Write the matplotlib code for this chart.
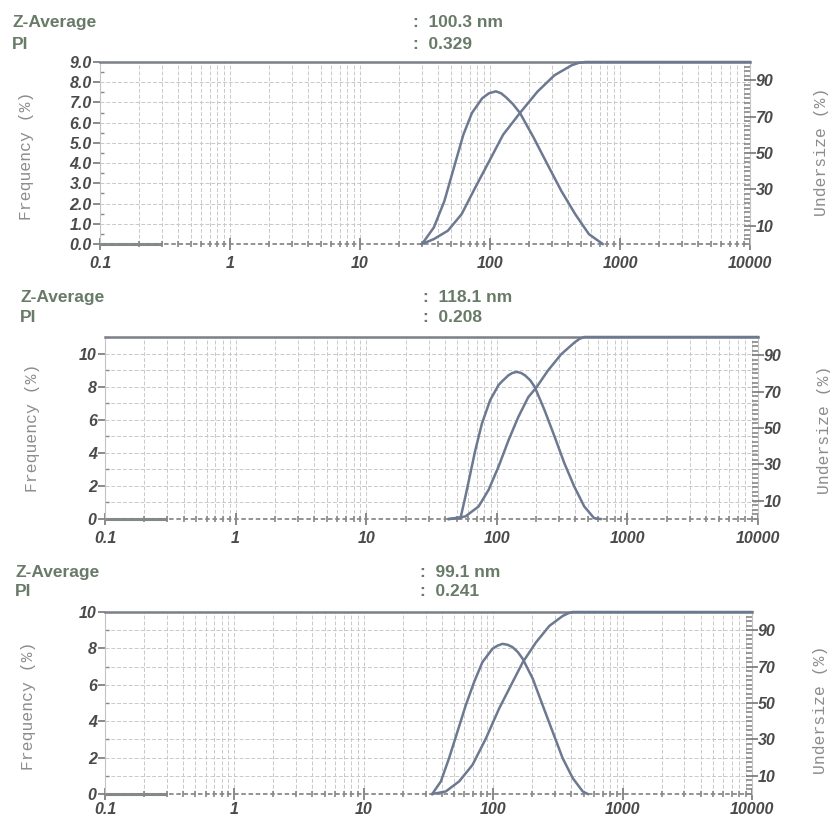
import numpy as np
import matplotlib
matplotlib.use("Agg")
import matplotlib.pyplot as plt
from matplotlib.ticker import FixedLocator, MultipleLocator, NullFormatter, FormatStrFormatter

# ---------------- data ----------------
z_average = ["100.3 nm", "118.1 nm", "99.1 nm"]
pdi_values = ["0.329", "0.208", "0.241"]

freq1_size = [30, 37, 44.6, 53.6, 62.4, 72.6, 87.2, 98, 111, 122, 133, 150, 170, 217, 277, 354, 452, 576, 736]
freq1_val = [0, 0.82, 2.13, 3.93, 5.41, 6.48, 7.21, 7.45, 7.55, 7.45, 7.25, 6.92, 6.48, 5.25, 3.93, 2.62, 1.48, 0.49, 0.0]
cum1_size = [30, 37, 47.4, 60.5, 77, 98.6, 126, 170, 231, 313, 425, 480, 542, 10000]
cum1_val = [0, 2.7, 7.3, 16.4, 31, 45.5, 60, 72, 83.6, 92.7, 98.2, 99.5, 100, 100]

freq2_size = [43, 52.7, 57.5, 62.8, 68.5, 77, 89, 103, 110, 123, 132, 142, 153, 164, 180, 195, 232, 277, 329, 392, 467, 556, 624]
freq2_val = [0, 0.05, 1.36, 2.77, 4.17, 5.78, 7.19, 8.09, 8.33, 8.69, 8.83, 8.89, 8.83, 8.69, 8.39, 7.99, 6.58, 4.98, 3.37, 1.96, 0.76, 0.05, 0]
cum2_size = [43, 57.5, 72.6, 86.5, 103, 123, 146, 174, 201, 246, 311, 392, 430, 467, 10000]
cum2_val = [0, 1.4, 6.9, 16, 28.7, 43.3, 56, 66.9, 72.3, 81.5, 90.5, 96.9, 99.0, 100, 100]

freq3_size = [33.8, 39.4, 45.6, 52.9, 61.4, 71.2, 82.6, 98.8, 108, 118, 129, 141, 155, 169, 202, 241, 288, 344, 412, 492, 538]
freq3_val = [0, 0.69, 1.97, 3.42, 4.88, 6.15, 7.25, 7.98, 8.15, 8.25, 8.2, 8.07, 7.8, 7.43, 6.34, 4.88, 3.42, 1.97, 0.87, 0.14, 0]
cum3_size = [33.8, 43, 54.5, 69.2, 87.8, 111, 141, 169, 214, 272, 344, 380, 412, 10000]
cum3_val = [0, 1.4, 6.9, 16, 30.5, 46.9, 61.4, 72.3, 83.3, 92.4, 97.8, 99.3, 100, 100]

baseline_size = [0.1, 0.3]
baseline_val = [0, 0]

x_ticks = [0.1, 1, 10, 100, 1000, 10000]
x_tick_labels = ["0.1", "1", "10", "100", "1000", "10000"]
undersize_ticks = [10, 30, 50, 70, 90]
freq_max = [9.0, 11.0, 10.0]
freq_major = [1.0, 2.0, 2.0]
freq_minor = [0.5, 1.0, 1.0]
freq_fmt = ["%.1f", "%d", "%d"]

panels = [
    (freq1_size, freq1_val, cum1_size, cum1_val),
    (freq2_size, freq2_val, cum2_size, cum2_val),
    (freq3_size, freq3_val, cum3_size, cum3_val),
]

# ---------------- layout ----------------
W, H = 830, 819
fig = plt.figure(figsize=(W / 100, H / 100), dpi=100)
fig.patch.set_facecolor("white")

def fx(px):
    return px / W

def fy(py):
    return 1 - py / H

axes_px = [(100, 62, 750, 244), (105, 337, 758, 519), (105, 612, 752, 794)]
xpad = [4, 4, 1]
header_px = [((12, 15), (413, 15), (12, 37), (413, 37)),
             ((20, 290), (423, 290), (20, 310), (423, 310)),
             ((15, 565), (420, 565), (15, 584), (420, 584))]
freq_label_px = [(26, 156), (33, 428), (29, 706)]
und_label_px = [(821, 152), (824, 430), (820, 710)]

curve_c = "#6d7891"
grid_c = "#c9c9c9"
tick_c = "#4a4a4a"
head_c = "#687a68"
lab_c = "#8c8c8c"

tick_font = dict(family="Liberation Sans", weight="bold", style="italic", size=11.5)

for i, (fs, fv, cs, cv) in enumerate(panels):
    l, t, r, b = axes_px[i]
    ax = fig.add_axes([fx(l), fy(b), fx(r) - fx(l), (b - t) / H])
    ax.set_xscale("log")
    ax.set_xlim(0.1, 10000)
    ax.set_ylim(0, freq_max[i])

    # ticks
    ax.xaxis.set_major_locator(FixedLocator(x_ticks))
    ax.xaxis.set_minor_locator(FixedLocator(
        [m * 10.0 ** e for e in range(-1, 4) for m in range(2, 10)]))
    ax.set_xticklabels(x_tick_labels)
    ax.xaxis.set_minor_formatter(NullFormatter())
    ax.yaxis.set_major_locator(MultipleLocator(freq_major[i]))
    ax.yaxis.set_minor_locator(MultipleLocator(freq_minor[i]))
    ax.yaxis.set_major_formatter(FormatStrFormatter(freq_fmt[i]))

    ax.tick_params(axis="x", which="major", direction="inout", length=9, width=1.2,
                   color="#777777", pad=xpad[i])
    ax.tick_params(axis="x", which="minor", direction="inout", length=4, width=1.2,
                   color="#888888")
    ax.tick_params(axis="y", which="major", direction="out", length=5, width=1.2,
                   color="#777777", pad=1)
    ax.tick_params(axis="y", which="minor", direction="in", length=3, width=1.0,
                   color="#888888")
    for lab in ax.get_xticklabels() + ax.get_yticklabels():
        lab.set_fontproperties(matplotlib.font_manager.FontProperties(**tick_font))
        lab.set_color(tick_c)

    # grid
    ax.grid(True, which="both", axis="x", color=grid_c, linestyle=(0, (4, 2)), linewidth=0.7)
    ax.grid(True, which="major", axis="y", color=grid_c, linestyle=(0, (4, 2)), linewidth=0.7)
    if freq_minor[i] == 1.0:
        ax.grid(True, which="minor", axis="y", color=grid_c, linestyle=(0, (4, 2)), linewidth=0.7)
    ax.set_axisbelow(True)

    # spines
    ax.spines["top"].set_color("#7a7f88")
    ax.spines["top"].set_linewidth(1.8)
    ax.spines["left"].set_color("#c4c4c4")
    ax.spines["left"].set_linewidth(0.8)
    ax.spines["right"].set_color("#c4c4c4")
    ax.spines["right"].set_linewidth(0.8)
    ax.spines["bottom"].set_color("#8a8a8a")
    ax.spines["bottom"].set_linewidth(1.3)
    ax.spines["bottom"].set_linestyle((0, (1.5, 2.5)))

    ax.plot(baseline_size, baseline_val, color="#7f8a80", linewidth=2.2,
            clip_on=False, solid_capstyle="butt")
    ax.plot(fs, fv, color=curve_c, linewidth=1.8, clip_on=False, zorder=4,
            solid_joinstyle="round")

    # undersize axis
    ax2 = ax.twinx()
    ax2.set_ylim(0, 100)
    ax2.yaxis.set_major_locator(FixedLocator(undersize_ticks))
    ax2.yaxis.set_minor_locator(MultipleLocator(2.5))
    ax2.tick_params(axis="y", which="major", direction="inout", length=8, width=1.2,
                    color="#777777", pad=0)
    ax2.tick_params(axis="y", which="minor", direction="in", length=4, width=1.2,
                    color="#888888")
    for lab in ax2.get_yticklabels():
        lab.set_fontproperties(matplotlib.font_manager.FontProperties(**tick_font))
        lab.set_color(tick_c)
    for s in ax2.spines.values():
        s.set_visible(False)
    ax2.plot(cs, cv, color=curve_c, linewidth=1.8, clip_on=False, zorder=4,
             solid_joinstyle="round")

    # headers
    (zx, zy), (vx, vy), (px_, py_), (qx, qy) = header_px[i]
    hfont = dict(family="Liberation Sans", weight="bold", size=12.5, color=head_c, va="top")
    fig.text(fx(zx), fy(zy), "Z-Average", **hfont)
    fig.text(fx(px_), fy(py_), "PI", **hfont)
    fig.text(fx(vx), fy(vy), ":  " + z_average[i], **hfont)
    fig.text(fx(qx), fy(qy), ":  " + pdi_values[i], **hfont)

    # axis titles
    lx, ly = freq_label_px[i]
    fig.text(fx(lx), fy(ly), "Frequency (%)", rotation=90, ha="center", va="center",
             family="Liberation Mono", size=11.8, color=lab_c)
    ux, uy = und_label_px[i]
    fig.text(fx(ux), fy(uy), "Undersize (%)", rotation=90, ha="center", va="center",
             family="Liberation Mono", size=11.8, color=lab_c)

fig.savefig("out.png", dpi=100, facecolor="white")
